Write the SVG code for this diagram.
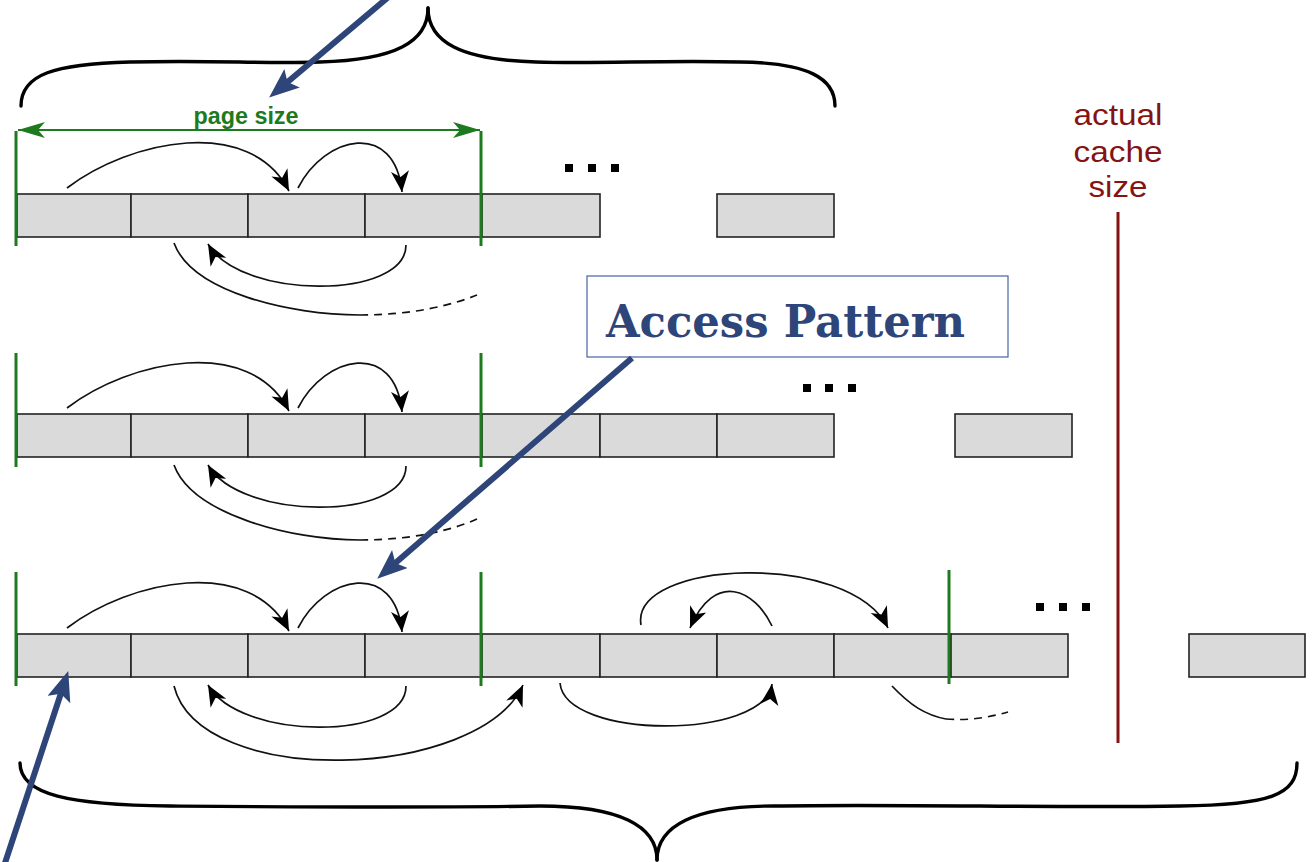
<svg xmlns="http://www.w3.org/2000/svg" width="1314" height="862" viewBox="0 0 1314 862">
  <style>
    .cell { fill: #dadada; stroke: #222; stroke-width: 1.6; }
    .page { stroke: #1e7a1e; stroke-width: 3; fill: none; }
    .arc { stroke: #111; stroke-width: 1.7; fill: none; }
    .arc-end { stroke: #111; stroke-width: 1.7; fill: none; stroke-dasharray: 8 6; }
    .brace { stroke: #000; stroke-width: 3.4; fill: none; stroke-linecap: round; }
    .dot { fill: #000; }
    .callout { stroke: #2e4579; stroke-width: 6; fill: none; }
    .cache { fill: #861313; font-family: "Liberation Sans", Arial, sans-serif; font-size: 30px; text-anchor: middle; }
  </style>
  <defs>
    <marker id="tip" markerUnits="userSpaceOnUse" markerWidth="24" markerHeight="20" refX="21" refY="9" orient="auto">
      <path d="M0,0 L21,9 L0,18 L6,9 z" fill="#000"/>
    </marker>
    <marker id="gtip" markerUnits="userSpaceOnUse" markerWidth="28" markerHeight="18" refX="27" refY="8" orient="auto-start-reverse">
      <path d="M0,0 L27,8 L0,16 L7,8 z" fill="#1e7a1e"/>
    </marker>
    <marker id="btip" markerUnits="userSpaceOnUse" markerWidth="32" markerHeight="26" refX="9" refY="12" orient="auto">
      <path d="M0,0 L30,12 L0,24 L6,12 z" fill="#2e4579"/>
    </marker>
  </defs>
  <rect width="1314" height="862" fill="#fff"/>

  <!-- braces -->
  <g id="brace-top">
    <path class="brace" d="M21,106 C21,74 55,64 130,62 C220,60 260,64 320,62 C395,60 428,42 428,8"/>
    <path class="brace" d="M428,8 C428,42 461,60 536,62 C600,64 660,60 740,62 C808,63 835,78 835,106"/>
  </g>
  <g id="brace-bottom">
    <path class="brace" d="M20,763 C20,795 70,805 170,806 C300,807 420,808 540,806 C620,806 657,826 657,860"/>
    <path class="brace" d="M657,860 C657,826 694,806 774,806 C900,804 1060,808 1180,806 C1270,805 1297,795 1297,763"/>
  </g>

  <!-- row 1 -->
  <g id="row1">
    <rect class="cell" x="17" y="194" width="114" height="43"/>
    <rect class="cell" x="131" y="194" width="117" height="43"/>
    <rect class="cell" x="248" y="194" width="117" height="43"/>
    <rect class="cell" x="365" y="194" width="117" height="43"/>
    <rect class="cell" x="482" y="194" width="118" height="43"/>
    <rect class="cell" x="717" y="194" width="117" height="43"/>
    <rect class="dot" x="565" y="164" width="8" height="8"/>
    <rect class="dot" x="588" y="164" width="8" height="8"/>
    <rect class="dot" x="611" y="164" width="8" height="8"/>
  </g>
  <g id="page-size">
    <line class="page" x1="16" y1="131" x2="16" y2="246"/>
    <line class="page" x1="481" y1="131" x2="481" y2="246"/>
    <line x1="18" y1="130" x2="480" y2="130" stroke="#1e7a1e" stroke-width="2" marker-start="url(#gtip)" marker-end="url(#gtip)"/>
    <text x="246" y="124" fill="#1e7a1e" font-family="Liberation Sans, Arial, sans-serif" font-weight="bold" font-size="23" text-anchor="middle" textLength="105" lengthAdjust="spacingAndGlyphs">page size</text>
  </g>

  <!-- row 2 -->
  <g id="row2">
    <rect class="cell" x="17" y="414" width="114" height="43"/>
    <rect class="cell" x="131" y="414" width="117" height="43"/>
    <rect class="cell" x="248" y="414" width="117" height="43"/>
    <rect class="cell" x="365" y="414" width="117" height="43"/>
    <rect class="cell" x="482" y="414" width="118" height="43"/>
    <rect class="cell" x="600" y="414" width="117" height="43"/>
    <rect class="cell" x="717" y="414" width="117" height="43"/>
    <rect class="cell" x="955" y="414" width="117" height="43"/>
    <rect class="dot" x="803" y="384" width="8" height="8"/>
    <rect class="dot" x="825" y="384" width="8" height="8"/>
    <rect class="dot" x="848" y="384" width="8" height="8"/>
    <line class="page" x1="16" y1="353" x2="16" y2="467"/>
    <line class="page" x1="481" y1="353" x2="481" y2="467"/>
  </g>

  <!-- row 3 -->
  <g id="row3">
    <rect class="cell" x="17" y="634" width="114" height="43"/>
    <rect class="cell" x="131" y="634" width="117" height="43"/>
    <rect class="cell" x="248" y="634" width="117" height="43"/>
    <rect class="cell" x="365" y="634" width="117" height="43"/>
    <rect class="cell" x="482" y="634" width="118" height="43"/>
    <rect class="cell" x="600" y="634" width="117" height="43"/>
    <rect class="cell" x="717" y="634" width="117" height="43"/>
    <rect class="cell" x="834" y="634" width="117" height="43"/>
    <rect class="cell" x="951" y="634" width="117" height="43"/>
    <rect class="cell" x="1189" y="634" width="116" height="43"/>
    <rect class="dot" x="1036" y="603" width="8" height="8"/>
    <rect class="dot" x="1059" y="603" width="8" height="8"/>
    <rect class="dot" x="1082" y="603" width="8" height="8"/>
    <line class="page" x1="16" y1="572" x2="16" y2="686"/>
    <line class="page" x1="481" y1="572" x2="481" y2="686"/>
    <line class="page" x1="949" y1="570" x2="949" y2="684"/>
  </g>

  <!-- cache size limit -->
  <g id="cache-size">
    <text class="cache" x="1118" y="125" textLength="89" lengthAdjust="spacingAndGlyphs">actual</text>
    <text class="cache" x="1118" y="162" textLength="89" lengthAdjust="spacingAndGlyphs">cache</text>
    <text class="cache" x="1118" y="197" textLength="59" lengthAdjust="spacingAndGlyphs">size</text>
    <line x1="1118" y1="212" x2="1118" y2="743" stroke="#861313" stroke-width="3"/>
  </g>

  <!-- access pattern label -->
  <g id="access-pattern">
    <rect x="587" y="276" width="421" height="81" fill="#fff" stroke="#4a64a0" stroke-width="1.2"/>
    <text x="606" y="337" fill="#2e4579" font-family="DejaVu Serif, Liberation Serif, serif" font-weight="bold" font-size="44" textLength="359" lengthAdjust="spacingAndGlyphs">Access Pattern</text>
  </g>

  <!-- access arcs -->
  <g id="connectors">
    <!-- row 1 -->
    <path class="arc" d="M67,188 C130,140 250,115 289,191" marker-end="url(#tip)"/>
    <path class="arc" d="M298,188 C325,135 395,120 402,192" marker-end="url(#tip)"/>
    <path class="arc" d="M406,245 C406,300 240,300 208,244" marker-end="url(#tip)"/>
    <path class="arc" d="M174,243 C192,292 290,315 360,315"/>
    <path class="arc-end" d="M360,315 C410,315 450,306 477,295"/>
    <!-- row 2 -->
    <path class="arc" d="M67,408 C130,360 250,335 289,411" marker-end="url(#tip)"/>
    <path class="arc" d="M298,408 C325,355 395,340 402,412" marker-end="url(#tip)"/>
    <path class="arc" d="M406,466 C406,521 240,521 208,465" marker-end="url(#tip)"/>
    <path class="arc" d="M174,465 C192,514 290,540 360,540"/>
    <path class="arc-end" d="M360,540 C410,540 450,531 477,519"/>
    <!-- row 3 -->
    <path class="arc" d="M67,628 C130,580 250,555 289,631" marker-end="url(#tip)"/>
    <path class="arc" d="M298,628 C325,575 395,560 402,632" marker-end="url(#tip)"/>
    <path class="arc" d="M406,686 C406,741 240,741 208,685" marker-end="url(#tip)"/>
    <path class="arc" d="M174,686 C200,790 480,780 523,685" marker-end="url(#tip)"/>
    <path class="arc" d="M641,625 C630,560 850,550 888,628" marker-end="url(#tip)"/>
    <path class="arc" d="M772,626 C755,590 715,570 690,628" marker-end="url(#tip)"/>
    <path class="arc" d="M560,683 C565,740 765,740 772,684" marker-end="url(#tip)"/>
    <path class="arc" d="M892,686 C910,705 925,715 946,719"/>
    <path class="arc-end" d="M946,719 C970,721 990,717 1008,712"/>
  </g>

  <!-- callout arrows -->
  <g id="callouts">
    <line class="callout" x1="392" y1="-6" x2="285.2" y2="84" marker-end="url(#btip)"/>
    <line class="callout" x1="632" y1="358" x2="393.1" y2="564.9" marker-end="url(#btip)"/>
    <line class="callout" x1="4" y1="866" x2="61.7" y2="691" marker-end="url(#btip)"/>
  </g>
</svg>
